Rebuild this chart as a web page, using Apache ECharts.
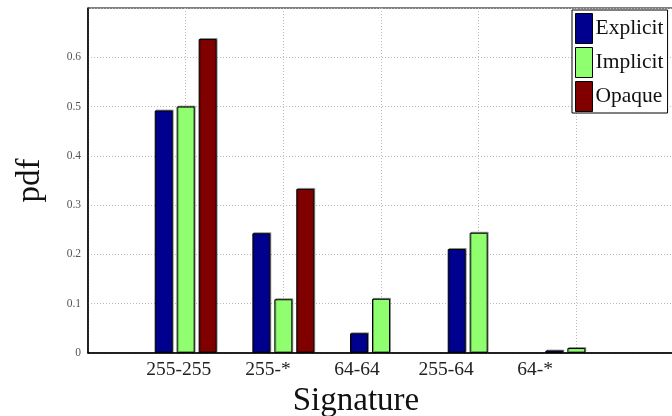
<!DOCTYPE html>
<html>
<head>
<meta charset="utf-8">
<script src="https://cdn.jsdelivr.net/npm/echarts@6/dist/echarts.min.js"></script>
<style>
  html, body { margin: 0; padding: 0; background: #fff; }
  #chart { width: 672px; height: 416px; }
</style>
</head>
<body>
<div id="chart"></div>
<script>
var categories = ["255-255", "255-*", "64-64", "255-64", "64-*"];
var explicitVals = [0.492, 0.243, 0.040, 0.211, 0.005];
var implicitVals = [0.500, 0.109, 0.110, 0.244, 0.010];
var opaqueVals = [0.637, 0.333, 0, 0, 0];
var yTicks = [0, 0.1, 0.2, 0.3, 0.4, 0.5, 0.6];

var serif = "Liberation Serif";

// bars sit at x = 1..5 on a 0..6 axis, like the original plot
function toPoints(vals) {
  return vals.map(function (v, i) { return [i + 1, v > 0 ? v : "-"]; });
}

function barSeries(name, color, vals) {
  return {
    name: name,
    type: "bar",
    xAxisIndex: 0,
    data: toPoints(vals),
    barWidth: 18,
    barGap: "22%",
    itemStyle: {
      color: color,
      borderColor: "#000",
      borderWidth: 1,
      shadowColor: "rgba(0,0,0,0.35)",
      shadowOffsetX: 1,
      shadowOffsetY: -1
    }
  };
}

var dotted = { color: "#bbb", type: [1, 2] };

var chart = echarts.init(document.getElementById("chart"));
chart.setOption({
  animation: false,
  textStyle: { fontFamily: serif },
  grid: {
    left: 88,
    top: 8,
    width: 586,
    height: 345,
    outerBoundsMode: "none",
    containLabel: false,
    show: true,
    borderColor: "#000",
    borderWidth: 1
  },
  legend: {
    left: 572,
    top: 10,
    orient: "vertical",
    backgroundColor: "#fff",
    borderColor: "#000",
    borderWidth: 1,
    padding: [3, 4, 1, 3],
    itemWidth: 17,
    itemHeight: 30,
    itemGap: 3,
    icon: "rect",
    textStyle: { fontFamily: serif, fontSize: 21.5, color: "#111", padding: [0, 0, 0, -2] },
    data: ["Explicit", "Implicit", "Opaque"],
    itemStyle: { borderColor: "#000", borderWidth: 1 }
  },
  xAxis: [
    {
      type: "value",
      min: 0,
      max: 6,
      interval: 1,
      axisLine: { show: true, lineStyle: { color: "#000", width: 1.5 } },
      axisTick: { show: false },
      axisLabel: { show: false },
      splitLine: { show: true, lineStyle: dotted }
    },
    {
      // label axis: the original's tick labels drift left of the bars
      type: "value",
      position: "bottom",
      min: -0.02,
      max: 6.56,
      name: "Signature",
      nameLocation: "middle",
      nameGap: 27,
      nameTextStyle: { fontFamily: serif, fontSize: 33, color: "#111", padding: [0, 50, 0, 0] },
      axisLine: { show: false },
      axisTick: { show: false },
      splitLine: { show: false },
      axisLabel: {
        fontFamily: serif,
        fontSize: 19.5,
        color: "#222",
        margin: 7,
        customValues: [1, 2, 3, 4, 5],
        formatter: function (v) {
          return categories[Math.round(v) - 1] || "";
        }
      }
    }
  ],
  yAxis: {
    type: "value",
    min: 0,
    max: 0.7,
    interval: 0.1,
    name: "pdf",
    nameLocation: "middle",
    nameGap: 41,
    nameTextStyle: { fontFamily: serif, fontSize: 33, color: "#111" },
    axisLine: { show: true, lineStyle: { color: "#000", width: 1.5 } },
    axisTick: { show: false },
    axisLabel: {
      fontFamily: serif,
      fontSize: 11.5,
      color: "#555",
      margin: 7,
      formatter: function (v) {
        for (var i = 0; i < yTicks.length; i++) {
          if (Math.abs(yTicks[i] - v) < 1e-6) return String(yTicks[i]);
        }
        return "";
      }
    },
    splitLine: { show: true, lineStyle: dotted }
  },
  series: [
    barSeries("Explicit", "#00008f", explicitVals),
    barSeries("Implicit", "#8fff70", implicitVals),
    barSeries("Opaque", "#800000", opaqueVals)
  ]
});
</script>
</body>
</html>
